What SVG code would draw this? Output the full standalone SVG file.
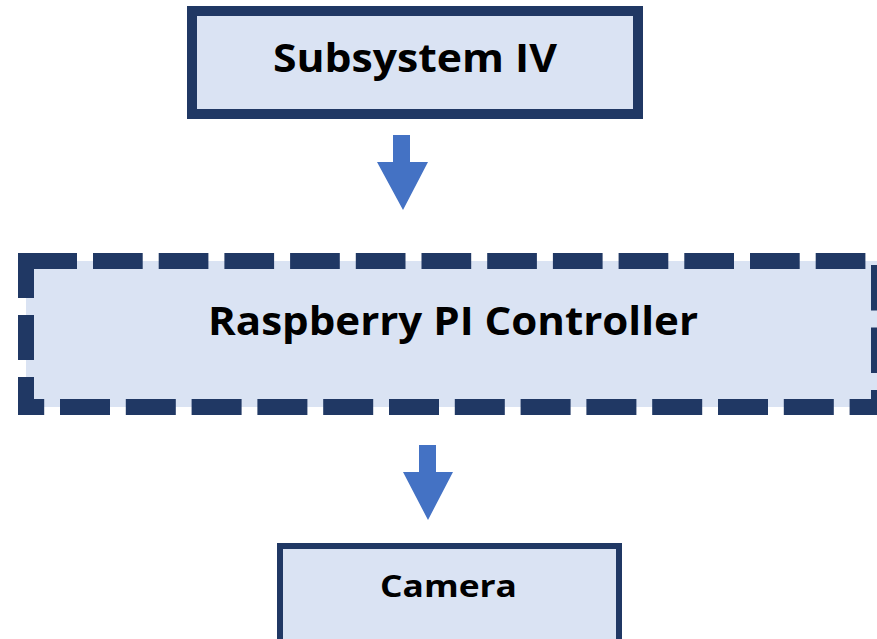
<svg xmlns="http://www.w3.org/2000/svg" width="877" height="639" viewBox="0 0 877 639">
<style>
.box{fill:#DAE3F3;stroke:#203864}
.fill{fill:#DAE3F3}
.dash{stroke:#203864;stroke-width:16;fill:none}
.lbl{font-family:"Open Sans","Liberation Sans",sans-serif;font-weight:bold;fill:#000}
.arrow{fill:#4472C4}
</style>
<rect width="877" height="639" fill="#fff"/>
<g id="subsystem">
<rect class="box" x="192" y="11" width="446" height="103" stroke-width="10"/>
<text class="lbl" x="273" y="72" font-size="40" textLength="284" lengthAdjust="spacingAndGlyphs">Subsystem IV</text>
</g>
<g id="controller">
<rect class="fill" x="26" y="261" width="853" height="146"/>
<line class="dash" x1="27.3" y1="261" x2="877" y2="261" stroke-dasharray="49.7 16"/>
<line class="dash" x1="26" y1="253" x2="26" y2="415" stroke-dasharray="45 17"/>
<line class="dash" x1="18" y1="407" x2="877" y2="407" stroke-dasharray="50 15.8" stroke-dashoffset="23.8"/>
<line class="dash" x1="879" y1="265" x2="879" y2="415" stroke-dasharray="45.5 17"/>
<text class="lbl" x="208" y="335" font-size="40" textLength="490" lengthAdjust="spacingAndGlyphs">Raspberry PI Controller</text>
</g>
<g id="camera">
<rect class="box" x="280" y="546" width="339" height="110" stroke-width="6"/>
<text class="lbl" x="380" y="597" font-size="29.5" textLength="137" lengthAdjust="spacingAndGlyphs">Camera</text>
</g>
<g id="connectors">
<polygon class="arrow" points="393,135 410,135 410,162 428,162 403,210 377,162 393,162"/>
<polygon class="arrow" points="419,445 436,445 436,472 453,472 428,520 403,472 419,472"/>
</g>
</svg>
